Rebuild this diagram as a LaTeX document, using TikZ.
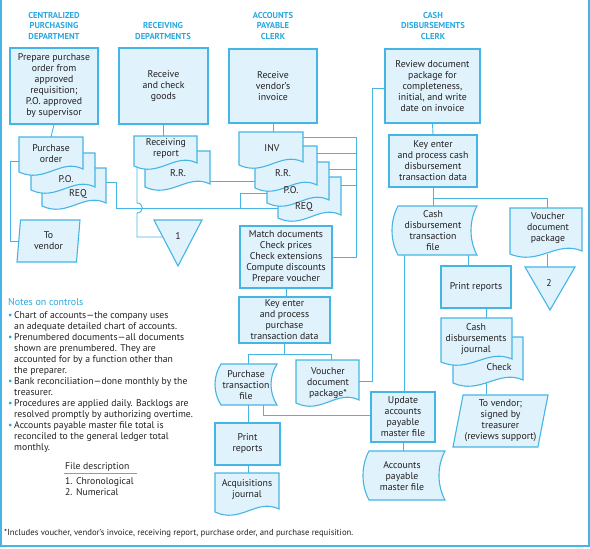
\documentclass[tikz,border=0pt]{standalone}
\usepackage{fontspec}
\setmainfont{PT Sans}
\usetikzlibrary{shapes.geometric,backgrounds,calc}
\definecolor{ln}{HTML}{45B5E5}
\definecolor{fl}{HTML}{E0F2FB}
\definecolor{hd}{HTML}{2AA7DF}
\definecolor{tx}{HTML}{231F20}
\tikzset{
 txt/.style={font=\fontsize{9.8}{11}\selectfont, text=tx, align=center, inner sep=0pt},
 hdg/.style={font=\fontsize{8.6}{10.5}\selectfont\bfseries, text=hd, align=center, inner sep=0pt},
 proc/.style={txt, draw=ln, fill=fl, line width=1.1pt},
 shp/.style={draw=ln, fill=fl, line width=1.1pt},
 bb/.style={inner sep=0pt, outer sep=0pt},
 cn/.style={draw=ln, line width=0.9pt},
 notetxt/.style={font=\fontsize{9.7}{11}\selectfont, text=tx, inner sep=0pt, anchor=base west},
 para/.style={txt, shp, trapezium, trapezium stretches body, inner sep=0pt},
}
\newcommand{\docsh}[5]{%
 \pgfmathsetmacro\dw{#4-#2}\pgfmathsetmacro\dh{#5-#3}%
 \path[shp] (#2,#3) -- (#4,#3) -- (#4,#5-3) .. controls ({#4-0.35*\dw},#5-14) and ({#2+0.4*\dw},#5+12) .. (#2,#5) -- cycle;
 \node[bb, minimum width=\dw pt, minimum height=\dh pt] (#1) at ({(#2+#4)/2},{(#3+#5)/2}) {};
}
\newcommand{\filesh}[5]{%
 \pgfmathsetmacro\dw{#4-#2}\pgfmathsetmacro\dh{#5-#3}%
 \path[shp] (#2+6,#3) -- (#4,#3) .. controls (#4-8,{#3+0.3*\dh}) and (#4-8,{#5-0.3*\dh}) .. (#4,#5) -- (#2+6,#5) .. controls (#2-2,{#5-0.3*\dh}) and (#2-2,{#3+0.3*\dh}) .. (#2+6,#3) -- cycle;
 \node[bb, minimum width=\dw pt, minimum height=\dh pt] (#1) at ({(#2+#4)/2},{(#3+#5)/2}) {};
}
\newcommand{\noteline}[3]{\node[notetxt] (#1) at (14,#2) {#3};}
\newcommand{\notebul}[2]{\node[notetxt, text=hd] (#1) at (8,#2) {\textbullet};}
\begin{document}
\begin{tikzpicture}[x=1pt,y=-1pt]
\useasboundingbox (0,0) rectangle (590,549);
\draw[ln, line width=1.3pt] (1,0) -- (1,546) -- (589,546) -- (589,0);
% headings
\node[hdg] (h1) at (54,25.5) {CENTRALIZED\\PURCHASING\\DEPARTMENT};
\node[hdg] (h2) at (163,31) {RECEIVING\\DEPARTMENTS};
\node[hdg] (h3) at (273,25.5) {ACCOUNTS\\PAYABLE\\CLERK};
\node[hdg] (h4) at (433,25.5) {CASH\\DISBURSEMENTS\\CLERK};
% process boxes
\node[proc, minimum width=88pt, minimum height=76pt] (prep) at (54,86) {Prepare purchase\\order from\\approved\\requisition;\\P.O. approved\\by supervisor};
\node[proc, minimum width=89pt, minimum height=76pt] (recv) at (163.5,86) {Receive\\and check\\goods};
\node[proc, minimum width=88pt, minimum height=74pt] (rinv) at (273,86) {Receive\\vendor's\\invoice};
\node[proc, minimum width=95pt, minimum height=74pt] (review) at (432.5,86) {Review document\\package for\\completeness,\\initial, and write\\date on invoice};
\node[proc, minimum width=92pt, minimum height=62pt] (match) at (286,257) {Match documents\\Check prices\\Check extensions\\Compute discounts\\Prepare voucher};
\node[proc, minimum width=91pt, minimum height=46pt] (keyp) at (284.5,320) {Key enter\\and process\\purchase\\transaction data};
\node[proc, minimum width=65pt, minimum height=42pt] (printp) at (247.5,444) {Print\\reports};
\node[proc, minimum width=64pt, minimum height=50pt] (update) at (403,417) {Update\\accounts\\payable\\master file};
\node[proc, minimum width=88pt, minimum height=52pt] (keyc) at (433,161) {Key enter\\and process cash\\disbursement\\transaction data};
\node[proc, minimum width=70pt, minimum height=42pt] (printc) at (476,287) {Print reports};
% purchasing document stack
\docsh{po3}{42}{168}{106}{206}
\docsh{po2}{31}{153}{95}{190}
\docsh{po1}{19}{137}{83}{172}
\node[txt] (po1t) at (51,154) {Purchase\\order};
\node[txt] (po2t) at (66,179) {P.O.};
\node[txt] (po3t) at (78,194) {REQ};
% receiving stack
\docsh{rr2}{145}{151}{210}{187}
\docsh{rr1}{134}{136}{197}{166}
\node[txt] (rr1t) at (166,149) {Receiving\\report};
\node[txt] (rr2t) at (178,173) {R.R.};
% AP stack
\docsh{inv4}{278}{177}{341}{218}
\docsh{inv3}{267}{162}{329}{203}
\docsh{inv2}{255}{146}{317}{188}
\docsh{inv1}{239}{132}{303}{165}
\node[txt] (inv1t) at (272,148) {INV};
\node[txt] (inv2t) at (283,173) {R.R.};
\node[txt] (inv3t) at (291,190) {P.O.};
\node[txt] (inv4t) at (304,207) {REQ};
% other documents
\docsh{vdp}{296}{360}{359}{403}
\node[txt] (vdpt) at (328,383) {Voucher\\document\\package*};
\docsh{acq}{215}{473}{279}{512}
\node[txt] (acqt) at (247,490) {Acquisitions\\journal};
\docsh{vdr}{510}{208}{582}{254}
\node[txt] (vdrt) at (548,228) {Voucher\\document\\package};
\docsh{cdj2}{453}{337}{523}{383}
\docsh{cdj1}{441}{318}{512}{362}
\node[txt] (cdj1t) at (476,339) {Cash\\disbursements\\journal};
\node[txt] (cdj2t) at (499,367) {Check};
% files
\filesh{ptf}{215}{364}{277}{405}
\node[txt] (ptft) at (246,385) {Purchase\\transaction\\file};
\filesh{apm}{363}{451}{445}{500}
\node[txt] (apmt) at (402,476) {Accounts\\payable\\master file};
\filesh{cdtf}{392}{206}{477}{255}
\node[txt] (cdtft) at (433,231) {Cash\\disbursement\\transaction\\file};
% parallelograms
\node[para, trapezium left angle=79, trapezium right angle=101, minimum width=63pt, minimum height=42pt] (tov) at (48.5,241) {To\\vendor};
\node[para, trapezium left angle=76.5, trapezium right angle=103.5, minimum width=95pt, minimum height=52pt] (tov2) at (500.5,421) {To vendor;\\signed by\\treasurer\\(reviews support)};
% triangles
\path[shp] (154,220) -- (202,220) -- (178,266) -- cycle;
\node[txt] (tri1) at (178,236) {1};
\coordinate (tri1w) at ($(154,220)!0.37!(178,266)$);
\path[shp] (525,267) -- (575,267) -- (550,310) -- cycle;
\node[txt] (tri2) at (549,283) {2};
% notes
\node[notetxt, text=hd, font=\fontsize{10}{11}\selectfont] (nh) at (8,305) {Notes on controls};
\notebul{b1}{318}\noteline{n1}{318}{Chart of accounts—the company uses}
\noteline{n2}{329}{an adequate detailed chart of accounts.}
\notebul{b2}{340}\noteline{n3}{340}{Prenumbered documents—all documents}
\noteline{n4}{351}{shown are prenumbered. They are}
\noteline{n5}{362}{accounted for by a function other than}
\noteline{n6}{373}{the preparer.}
\notebul{b3}{384}\noteline{n7}{384}{Bank reconciliation—done monthly by the}
\noteline{n8}{395}{treasurer.}
\notebul{b4}{406}\noteline{n9}{406}{Procedures are applied daily. Backlogs are}
\noteline{n10}{417}{resolved promptly by authorizing overtime.}
\notebul{b5}{428}\noteline{n11}{428}{Accounts payable master file total is}
\noteline{n12}{439}{reconciled to the general ledger total}
\noteline{n13}{450}{monthly.}
\node[notetxt] (fd) at (65,469) {File description};
\draw[ln, line width=1pt] (64,473.5) -- (137,473.5);
\node[notetxt] (fd1) at (65,484.5) {1. Chronological};
\node[notetxt] (fd2) at (65,495.5) {2. Numerical};
\node[notetxt, font=\fontsize{8.7}{10}\selectfont] (foot) at (4,535) {*Includes voucher, vendor's invoice, receiving report, purchase order, and purchase requisition.};
% connectors
\begin{pgfonlayer}{background}
\draw[cn] (prep.south) -- (po1.north);
\draw[cn] (recv.south) -- (recv.south |- rr1.north);
\draw[cn] (rinv.south) -- (rinv.south |- inv1.north);
\draw[cn] (review.south) -- (keyc.north);
\draw[cn] (po1.west |- 0,161) -- (10,161) |- (tov.west);
\draw[cn] (po3.east |- 0,182) -- (116,182) |- (inv4.west |- 0,208);
\draw[cn] (240,208) |- (inv3.west |- 0,193);
\draw[cn] ([xshift=3pt]rr1.south west) -- (137,203) .. controls (144,203) and (144,213) .. (137,213) |- (tri1w);
\draw[cn] (rr2.east |- 0,181) -- (inv2.west |- 0,181);
\draw[cn] (inv1.east |- 0,137) -| (match.east -| 356,0) -- (match.east);
\draw[cn] (inv2.east |- 0,153) -- (356,153);
\draw[cn] (inv3.east |- 0,169) -- (356,169);
\draw[cn] (inv4.east |- 0,185) -- (356,185);
\draw[cn] (match.south) -- (match.south |- keyp.north);
\draw[cn] (keyp.south) -- ++(0,11);
\draw[cn] (ptf.north -| 248,0) |- ($(keyp.south)+(0,11)$) -| (vdp.north -| 331,0);
\draw[cn] (vdp.east |- 0,381) -| (372,88) -- (review.west |- 0,88);
\draw[cn] (ptf.south -| 248,0) -- (printp.north -| 248,0);
\draw[cn] (ptf.south -| 263,0) |- (update.west |- 0,415);
\draw[cn] (printp.south -| 248,0) -- (acq.north -| 248,0);
\draw[cn] (update.south) -- (update.south |- apm.north);
\draw[cn] (keyc.south) -- (keyc.south |- cdtf.north);
\draw[cn] ($(keyc.south)+(0,11)$) -| (vdr.north -| 547,0);
\draw[cn] (cdtf.south -| 404,0) -- (update.north -| 404,0);
\draw[cn] (cdtf.south -| 468,0) -- (printc.north -| 468,0);
\draw[cn] (vdr.south -| 547,0) -- (547,267);
\draw[cn] (printc.south -| 486,0) -- (cdj1.north -| 486,0);
\draw[cn] (cdj2.south -| 486,0) -- (tov2.north -| 486,0);
\end{pgfonlayer}
\end{tikzpicture}
\end{document}
